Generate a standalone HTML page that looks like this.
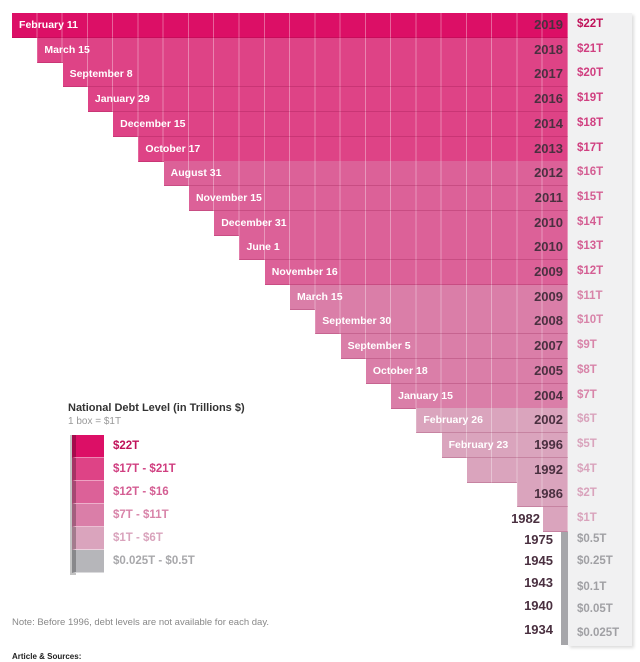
<!DOCTYPE html>
<html><head><meta charset="utf-8"><style>
body{margin:0;width:640px;height:662px;background:#fff;position:relative;overflow:hidden;font-family:"Liberation Sans",sans-serif}
.a{position:absolute}
.row{position:absolute;height:24px;border-bottom:1px solid rgba(120,0,50,.2);
background-image:repeating-linear-gradient(to left,rgba(255,255,255,.35) 0 1px,transparent 1px 25.27px)}
.dt{position:absolute;color:#fff;font-size:10.5px;font-weight:bold;top:6px;white-space:nowrap}
.yr{position:absolute;font-size:13px;font-weight:bold;color:#4a3040;text-align:right;width:60px}
.dl{position:absolute;font-size:11.5px;font-weight:bold;left:577px}
</style></head><body>
<div class="a" style="left:568px;top:13px;width:64px;height:633px;background:#f1f1f2;box-shadow:2px 2px 3px #ddd"></div>
<div class="a" style="left:561px;top:532px;width:7px;height:113px;background:#a6a6aa"></div>
<div id="g"></div>
<div class="a" style="left:68px;top:402px;font-size:11px;font-weight:bold;color:#333">National Debt Level (in Trillions $)</div>
<div class="a" style="left:68px;top:416px;font-size:10px;color:#999">1 box = $1T</div>
<div class="a" style="left:70px;top:435px;width:6px;height:140px;background:#555;opacity:.35"></div>
<div id="lg"></div>
<div class="a" style="left:12px;top:617px;font-size:9.5px;color:#888">Note: Before 1996, debt levels are not available for each day.</div>
<div class="a" style="left:12px;top:652px;font-size:8px;font-weight:bold;color:#222">Article &amp; Sources:</div>
<script>
(function(){
var dates=["February 11","March 15","September 8","January 29","December 15","October 17","August 31","November 15","December 31","June 1","November 16","March 15","September 30","September 5","October 18","January 15","February 26","February 23","","",""];
var yrs=["2019","2018","2017","2016","2014","2013","2012","2011","2010","2010","2009","2009","2008","2007","2005","2004","2002","1996","1992","1986","1982"];
var g=document.getElementById('g'),h='',W=25.27,P=24.7;
function col(n){return n>=22?'#dc0f66':n>=17?'#de4386':n>=12?'#dc6198':n>=7?'#da7ea8':'#daa4bd'}
function tc(n){return n>=22?'#c0125a':n>=17?'#d03f80':n>=12?'#d45e93':n>=7?'#d884a9':n>=1?'#d9a3bc':'#a8a8ab'}
for(var i=0;i<21;i++){var n=i<19?22-i:(i==19?2:1);var ty=13+i*P,lx=568-n*W;
h+='<div class="row" style="top:'+ty+'px;left:'+lx+'px;width:'+(n*W)+'px;background-color:'+col(n)+'">'+(dates[i]?'<span class="dt" style="left:7px">'+dates[i]+'</span>':'')+'</div>';
var yl=i==20?480:503;
h+='<div class="yr" style="top:'+(ty+4)+'px;left:'+yl+'px">'+yrs[i]+'</div>';
h+='<div class="dl" style="top:'+(ty+5)+'px;color:'+tc(n)+'">$'+n+'T</div>';}
var ly=[["1975",540,"$0.5T",541],["1945",561,"$0.25T",563],["1943",583,"$0.1T",589],["1940",606,"$0.05T",611],["1934",630,"$0.025T",635]];
ly.forEach(function(r){h+='<div class="yr" style="top:'+(r[1]-8)+'px;left:493px">'+r[0]+'</div><div class="dl" style="top:'+(r[3]-8)+'px;color:#a0a0a4">'+r[2]+'</div>';});
g.innerHTML=h;
var L=[["$22T","#dc0f66","#c0125a"],["$17T - $21T","#de4386","#d03f80"],["$12T - $16","#dc6198","#d45e93"],["$7T - $11T","#da7ea8","#d884a9"],["$1T - $6T","#daa4bd","#d9a3bc"],["$0.025T - $0.5T","#b6b6ba","#a8a8ab"]],s='';
L.forEach(function(l,k){var y=435+k*23;s+='<div class="a" style="left:72px;top:'+y+'px;width:28px;height:22px;background:'+l[1]+';border-bottom:1px solid rgba(255,255,255,.5);border-left:4px solid rgba(0,0,0,.25)"></div><div class="a" style="left:113px;top:'+(y+5)+'px;font-size:11.5px;font-weight:bold;color:'+l[2]+'">'+l[0]+'</div>';});
document.getElementById('lg').innerHTML=s;
})();
</script>
</body></html>
